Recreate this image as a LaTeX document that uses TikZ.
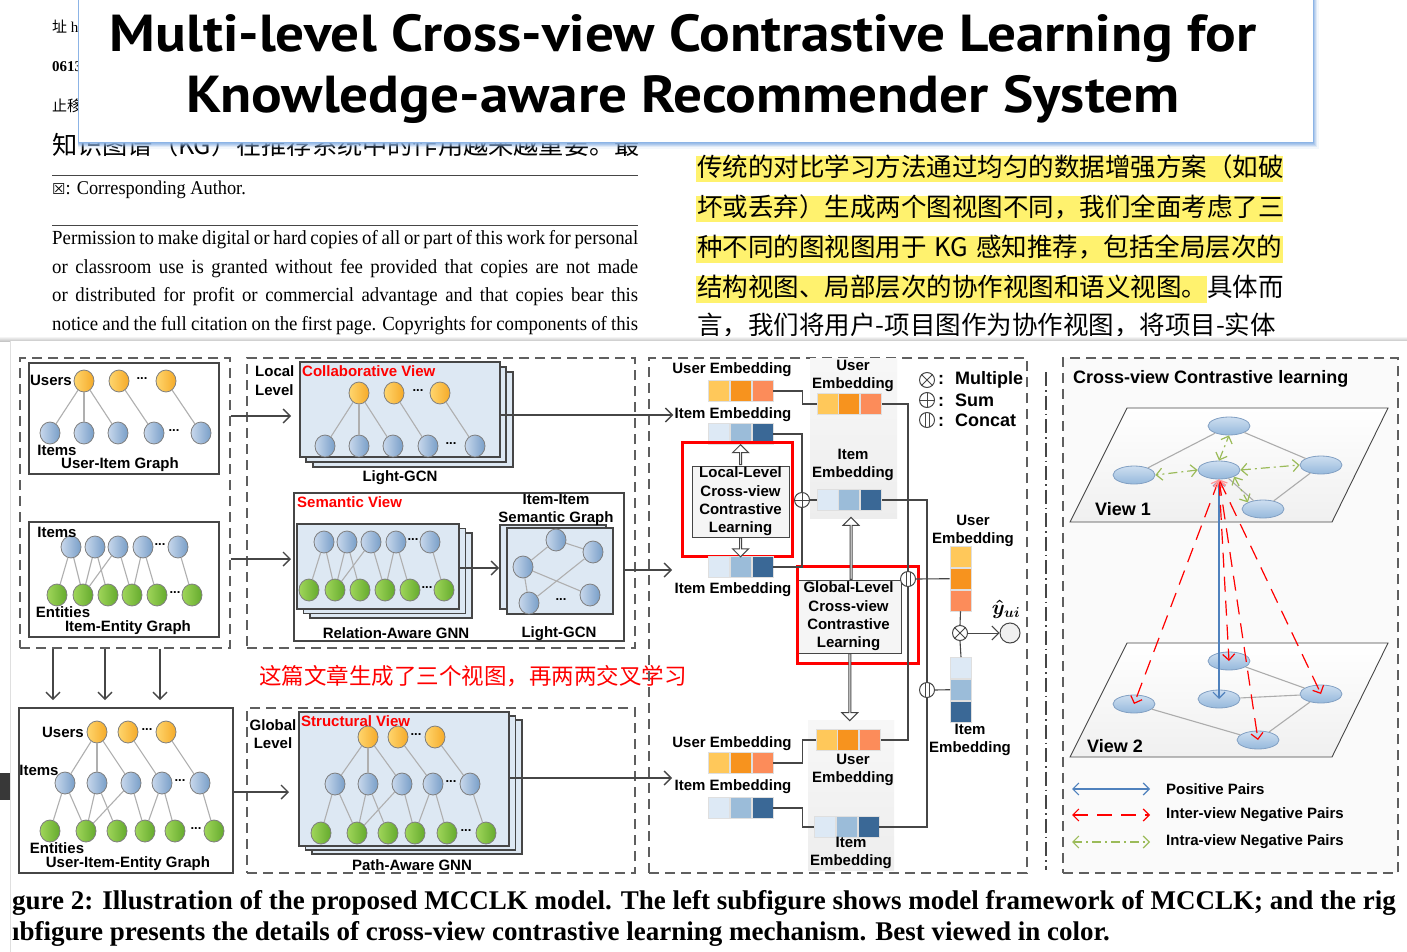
\documentclass[tikz,border=0pt]{standalone}
\usepackage{fontspec}
\setmainfont{Liberation Serif}
\setsansfont{Liberation Sans}
\newfontfamily\cjkfont{Noto Sans CJK SC}
\newfontfamily\titlefont[FakeStretch=1.1]{PT Sans}
\newfontfamily\symbfont{DejaVu Sans}
\newfontfamily\paperfont[FakeStretch=0.94]{Liberation Serif}
\usetikzlibrary{shapes.geometric, shapes.arrows, arrows.meta, positioning, calc}

\definecolor{hlyellow}{RGB}{255,242,110}
\definecolor{titleblue}{RGB}{140,180,230}
\definecolor{frame}{RGB}{70,70,70}
\definecolor{dashgray}{RGB}{95,95,95}
\definecolor{edgegray}{RGB}{175,175,175}
\definecolor{viewfill}{RGB}{221,232,243}
\definecolor{userA}{RGB}{255,214,110}
\definecolor{userB}{RGB}{245,170,40}
\definecolor{itemA}{RGB}{200,216,236}
\definecolor{itemB}{RGB}{120,158,200}
\definecolor{entA}{RGB}{160,214,90}
\definecolor{entB}{RGB}{100,170,45}
\definecolor{ucellA}{RGB}{255,200,90}
\definecolor{ucellB}{RGB}{247,147,30}
\definecolor{ucellC}{RGB}{252,140,90}
\definecolor{icellA}{RGB}{221,233,245}
\definecolor{icellB}{RGB}{155,188,217}
\definecolor{icellC}{RGB}{58,104,150}
\definecolor{posblue}{RGB}{79,129,189}
\definecolor{intragreen}{RGB}{155,187,89}
\definecolor{ellfillA}{RGB}{205,222,240}
\definecolor{ellfillB}{RGB}{150,185,220}
\definecolor{ellline}{RGB}{130,160,195}

\newcommand{\dfont}{\sffamily\bfseries\fontsize{15}{18.3}\selectfont}
\newcommand{\uiedges}{u1/i1, u1/i2, u1/i3, u2/i4, u3/i5}
\newcommand{\kgedges}{i1/e1, i1/e2, i2/e2, i2/e3, i3/e2, i3/e4, i4/e4, i4/e5, i5/e6}

\tikzstyle{arrow} = [line width=1.4pt, draw=frame, -{Straight Barb[length=7pt, width=14pt]}]
\tikzstyle{dashbox} = [rectangle, draw=dashgray, line width=1.2pt, dash pattern=on 10pt off 6pt, inner sep=0pt]
\tikzstyle{graphbox} = [rectangle, draw=frame, line width=1.5pt, fill=white, inner sep=0pt]
\tikzstyle{stackbox} = [rectangle, draw=frame, line width=1.5pt, fill=viewfill, inner sep=0pt]
\tikzstyle{unode} = [ellipse, draw=frame!70, line width=0.8pt, left color=userA, right color=userB, minimum width=20pt, minimum height=22pt, inner sep=0pt]
\tikzstyle{inode} = [unode, left color=itemA, right color=itemB]
\tikzstyle{enode} = [unode, left color=entA, right color=entB]
\tikzstyle{glink} = [draw=edgegray, line width=1.1pt]
\tikzstyle{lbl} = [font=\dfont, inner sep=1pt]
\tikzstyle{redlbl} = [lbl, text=red, anchor=west]
\tikzstyle{dotlbl} = [font=\sffamily\bfseries\fontsize{13}{13}\selectfont, inner sep=0pt]
\tikzstyle{embcell} = [rectangle, minimum width=21pt, minimum height=21pt, inner sep=0pt, draw=white!75!gray, line width=0.7pt]
\tikzstyle{wireline} = [draw=frame, line width=1.1pt]
\tikzstyle{opnode} = [circle, draw=frame, fill=white, line width=1pt, minimum size=15pt, inner sep=0pt]
\tikzstyle{blockarrow} = [single arrow, draw=frame, fill=white, line width=1pt, minimum width=16pt, single arrow head extend=3.5pt, single arrow head indent=0pt, inner sep=0pt]
\tikzstyle{levelbox} = [rectangle, draw=frame, fill=gray!8, line width=1pt, align=center, font=\dfont, inner sep=0pt]
\tikzstyle{redbox} = [rectangle, draw=red, line width=3pt, inner sep=0pt]
\tikzstyle{graypanel} = [rectangle, top color=gray!6, bottom color=gray!14, inner sep=0pt]
\tikzstyle{viewplane} = [draw=frame, line width=0.9pt, top color=white, bottom color=gray!12]
\tikzstyle{viewnode} = [ellipse, draw=ellline, line width=0.8pt, top color=ellfillA, bottom color=ellfillB, minimum width=42pt, minimum height=18pt, inner sep=0pt]
\tikzstyle{posarrow} = [draw=posblue, line width=1.2pt, {Straight Barb[length=6pt, width=12pt]}-{Straight Barb[length=6pt, width=12pt]}]
\tikzstyle{interarrow} = [draw=red, line width=1.2pt, dash pattern=on 15pt off 9pt, {Straight Barb[length=6pt, width=12pt]}-{Straight Barb[length=6pt, width=12pt]}]
\tikzstyle{intraarrow} = [draw=intragreen, line width=1.2pt, dash pattern=on 9pt off 4pt on 2pt off 4pt, {Straight Barb[length=6pt, width=12pt]}-{Straight Barb[length=6pt, width=12pt]}]
\tikzstyle{permline} = [anchor=west, font=\paperfont\fontsize{20}{22}\selectfont, inner sep=0pt]
\tikzstyle{cjkline} = [anchor=west, font=\cjkfont\fontsize{25.5}{27}\selectfont, inner sep=0pt]
\tikzstyle{capline} = [anchor=west, font=\rmfamily\bfseries\fontsize{27}{28}\selectfont, inner sep=0pt]

% embedding bars: name, x, y of middle cell, u/i
\newcommand{\embrow}[4]{%
  \node[embcell, fill=#4cellA] (#1-1) at ({#2-22},#3) {};
  \node[embcell, fill=#4cellB, right=0pt of #1-1] (#1-2) {};
  \node[embcell, fill=#4cellC, right=0pt of #1-2] (#1-3) {};
}
\newcommand{\embcol}[4]{%
  \node[embcell, fill=#4cellA] (#1-1) at (#2,{#3-22}) {};
  \node[embcell, fill=#4cellB, below=0pt of #1-1] (#1-2) {};
  \node[embcell, fill=#4cellC, below=0pt of #1-2] (#1-3) {};
}

\begin{document}
\begin{tikzpicture}[x=1pt, y=-1pt]
\useasboundingbox (0,0) rectangle (1407,952);
\fill[white] (0,0) rectangle (1407,952);

% Paper page behind the title
\node[anchor=west, font=\fontsize{15}{16}\selectfont, inner sep=0pt] (addr) at (52,27) {{\cjkfont 址} h};
\node[anchor=west, font=\bfseries\fontsize{15}{16}\selectfont, inner sep=0pt] (code) at (52,67) {0613};
\node[anchor=west, font=\cjkfont\fontsize{15}{16}\selectfont, inner sep=0pt] (stop) at (52,106) {止移};
\node[cjkline, font=\cjkfont\fontsize{25.2}{27}\selectfont] (kgline) at (52,145) {知识图谱（KG）在推荐系统中的作用越来越重要。最};

% Title
\foreach \s/\o in {6/0.1, 4/0.2, 3/0.3, 2/0.4, 1/0.5}
  \fill[titleblue, opacity=\o] (78,-10) rectangle (1313+\s,143+\s);
\node[draw=titleblue, fill=white, line width=0.8pt, minimum width=1235pt, minimum height=153pt, anchor=south west, inner sep=0pt] (titlebox) at (78,143) {};
\node[font=\titlefont\bfseries\fontsize{52}{61}\selectfont, align=center, inner sep=0pt] (title) at (683,69) {Multi-level Cross-view Contrastive Learning for\\Knowledge-aware Recommender System};

% Left column
\draw[frame, line width=0.8pt] (52,175) -- (638,175);
\node[anchor=west, font=\paperfont\fontsize{19.5}{20}\selectfont, inner sep=0pt] (corr) at (52,190) {{\symbfont\fontsize{15}{15}\selectfont ☒}: Corresponding Author.};
\draw[frame, line width=0.8pt] (52,225) -- (638,225);
\node[permline] (perm1) at (52,240) {\makebox[586pt][s]{Permission to make digital or hard copies of all or part of this work for personal}};
\node[permline] (perm2) at (52,269) {\makebox[586pt][s]{or classroom use is granted without fee provided that copies are not made}};
\node[permline] (perm3) at (52,297) {\makebox[586pt][s]{or distributed for profit or commercial advantage and that copies bear this}};
\node[permline] (perm4) at (52,326) {\makebox[586pt][s]{notice and the full citation on the first page. Copyrights for components of this}};

% Right column
\fill[hlyellow] (696,156) rectangle (1283,182);
\fill[hlyellow] (696,196) rectangle (1283,222);
\fill[hlyellow] (696,236) rectangle (1283,263);
\fill[hlyellow] (696,276) rectangle (1207,303);
\node[cjkline] (zh1) at (697,167) {传统的对比学习方法通过均匀的数据增强方案（如破};
\node[cjkline] (zh2) at (697,207) {坏或丢弃）生成两个图视图不同，我们全面考虑了三};
\node[cjkline] (zh3) at (697,247) {\makebox[585pt][s]{种不同的图视图用于 KG 感知推荐，包括全局层次的}};
\node[cjkline] (zh4) at (697,287) {结构视图、局部层次的协作视图和语义视图。具体而};
\node[cjkline] (zh5) at (697,325) {言，我们将用户-项目图作为协作视图，将项目-实体};

% Figure card
\shade[top color=white, bottom color=gray!45] (0,336) rectangle (1407,341);
\fill[white] (10,341) rectangle (1407,952);
\draw[gray!25] (10,341) -- (10,952);
\fill[black!78] (0,773) rectangle (10,800);

% Input graphs
\node[dashbox, minimum width=210pt, minimum height=290pt] (inputs) at (125,503) {};
\node[graphbox, minimum width=190pt, minimum height=111pt] (uig) at (124,418.5) {};
\node[graphbox, minimum width=190pt, minimum height=115pt] (ieg) at (124,579.5) {};
\node[graphbox, minimum width=214pt, minimum height=165pt] (uieg) at (126,790.5) {};

\foreach \n/\x in {1/84, 2/119, 3/166} \node[unode] (uig-u\n) at (\x,381) {};
\foreach \n/\x in {1/50, 2/84, 3/118, 4/154, 5/201} \node[inode] (uig-i\n) at (\x,433) {};
\foreach \a/\b in \uiedges \draw[glink] (uig-\a) -- (uig-\b);
\node[dotlbl] (uig-ud) at (142,379) {...};
\node[dotlbl] (uig-id) at (174,431) {...};
\node[lbl] (uig-ul) at (51,380) {Users};
\node[lbl] (uig-il) at (57,450) {Items};
\node[lbl] (uig-name) at (120,465) {User-Item Graph};

\foreach \n/\x in {1/71, 2/95, 3/118, 4/143, 5/178} \node[inode] (ieg-i\n) at (\x,547) {};
\foreach \n/\x in {1/57, 2/83, 3/108, 4/132, 5/157, 6/192} \node[enode] (ieg-e\n) at (\x,595) {};
\foreach \a/\b in \kgedges \draw[glink] (ieg-\a) -- (ieg-\b);
\node[dotlbl] (ieg-id) at (160,545) {...};
\node[dotlbl] (ieg-ed) at (175,593) {...};
\node[lbl] (ieg-il) at (57,532) {Items};
\node[lbl] (ieg-el) at (63,612) {Entities};
\node[lbl] (ieg-name) at (128,628) {Item-Entity Graph};

\foreach \n/\x in {1/97, 2/128, 3/166} \node[unode] (uie-u\n) at (\x,732) {};
\foreach \n/\x in {1/65, 2/97, 3/131, 4/162, 5/200} \node[inode] (uie-i\n) at (\x,783) {};
\foreach \n/\x in {1/50, 2/86, 3/117, 4/145, 5/175, 6/214} \node[enode] (uie-e\n) at (\x,831) {};
\foreach \a/\b in \uiedges \draw[glink] (uie-\a) -- (uie-\b);
\foreach \a/\b in \kgedges \draw[glink] (uie-\a) -- (uie-\b);
\node[dotlbl] (uie-ud) at (147,730) {...};
\node[dotlbl] (uie-id) at (180,781) {...};
\node[dotlbl] (uie-ed) at (196,829) {...};
\node[lbl] (uie-ul) at (63,732) {Users};
\node[lbl] (uie-il) at (39,770) {Items};
\node[lbl] (uie-el) at (57,848) {Entities};
\node[lbl] (uie-name) at (128,864) {User-Item-Entity Graph};

\foreach \x [count=\k] in {53,105,160} {
  \coordinate (down\k) at (\x,700);
  \draw[arrow] (inputs.south -| down\k) -- (down\k);
}

% Local level views
\node[dashbox, minimum width=388pt, minimum height=290pt] (local) at (441,503) {};
\node[lbl, anchor=west, align=left, font=\sffamily\bfseries\fontsize{15}{19}\selectfont] (loclbl) at (254,381) {Local\\Level};
\node[stackbox, minimum width=200pt, minimum height=95pt] (collab3) at (413,419.5) {};
\node[stackbox, minimum width=200pt, minimum height=95pt] (collab2) at (406,414.5) {};
\node[stackbox, minimum width=200pt, minimum height=95pt] (collab1) at (400,409.5) {};
\node[redlbl] (collabname) at (301,371) {Collaborative View};
\foreach \n/\x in {1/359, 2/394, 3/440} \node[unode] (col-u\n) at (\x,393) {};
\foreach \n/\x in {1/325, 2/359, 3/393, 4/428, 5/475} \node[inode] (col-i\n) at (\x,446) {};
\foreach \a/\b in \uiedges \draw[glink] (col-\a) -- (col-\b);
\node[dotlbl] (col-ud) at (418,391) {...};
\node[dotlbl] (col-id) at (451,444) {...};
\node[lbl] (colgcn) at (400,478) {Light-GCN};

\node[graphbox, minimum width=330pt, minimum height=148pt] (sem) at (459,567) {};
\node[redlbl] (semname) at (296,502) {Semantic View};
\node[stackbox, minimum width=162pt, minimum height=85pt] (rel3) at (391,575.5) {};
\node[stackbox, minimum width=162pt, minimum height=85pt] (rel2) at (384.5,571) {};
\node[stackbox, minimum width=162pt, minimum height=85pt] (rel1) at (378,566.5) {};
\foreach \n/\x in {1/324, 2/347, 3/371, 4/396, 5/430} \node[inode] (rel-i\n) at (\x,542) {};
\foreach \n/\x in {1/309, 2/335, 3/360, 4/385, 5/410, 6/444} \node[enode] (rel-e\n) at (\x,590) {};
\foreach \a/\b in \kgedges \draw[glink] (rel-\a) -- (rel-\b);
\node[dotlbl] (rel-id) at (413,540) {...};
\node[dotlbl] (rel-ed) at (427,588) {...};
\node[lbl] (relname) at (396,633) {Relation-Aware GNN};

\node[stackbox, minimum width=106pt, minimum height=84pt] (ii2) at (553,567) {};
\node[stackbox, minimum width=106pt, minimum height=86pt] (ii1) at (560,571) {};
\node[lbl, align=center] (iiname) at (556,510) {Item-Item\\Semantic Graph};
\foreach \n/\x/\y in {1/556/540, 2/593/552, 3/523/567, 4/529/603, 5/590/595} \node[inode] (iig-\n) at (\x,\y) {};
\foreach \a/\b in {1/2, 1/3, 3/5, 3/4, 2/4} \draw[glink] (iig-\a) -- (iig-\b);
\node[dotlbl] (iig-d) at (561,600) {...};
\node[lbl] (iigcn) at (559,634) {Light-GCN};

\coordinate (coltip) at (291,416);
\coordinate (semin) at (291,559);
\coordinate (iiin) at (499,568);
\draw[arrow] (inputs.east |- coltip) -- (coltip);
\draw[arrow] (inputs.east |- semin) -- (semin);
\draw[arrow] (rel1.east |- iiin) -- (iiin);

\node[anchor=west, text=red, font=\cjkfont\fontsize{22.5}{24}\selectfont, inner sep=0pt] (note) at (259,676) {这篇文章生成了三个视图，再两两交叉学习};

% Global level view
\node[dashbox, minimum width=388pt, minimum height=165pt] (global) at (441,790.5) {};
\node[lbl, align=center, font=\sffamily\bfseries\fontsize{15}{18}\selectfont] (glblbl) at (273,734) {Global\\Level};
\node[stackbox, minimum width=210pt, minimum height=134pt] (struct3) at (417,787) {};
\node[stackbox, minimum width=210pt, minimum height=134pt] (struct2) at (410.5,783) {};
\node[stackbox, minimum width=210pt, minimum height=134pt] (struct1) at (404,779) {};
\node[redlbl] (strname) at (300,721) {Structural View};
\foreach \n/\x in {1/368, 2/398, 3/435} \node[unode] (str-u\n) at (\x,737) {};
\foreach \n/\x in {1/335, 2/368, 3/402, 4/433, 5/470} \node[inode] (str-i\n) at (\x,784) {};
\foreach \n/\x in {1/321, 2/357, 3/388, 4/415, 5/447, 6/486} \node[enode] (str-e\n) at (\x,833) {};
\foreach \a/\b in \uiedges \draw[glink] (str-\a) -- (str-\b);
\foreach \a/\b in \kgedges \draw[glink] (str-\a) -- (str-\b);
\node[dotlbl] (str-ud) at (416,735) {...};
\node[dotlbl] (str-id) at (451,782) {...};
\node[dotlbl] (str-ed) at (466,831) {...};
\node[lbl] (strgnn) at (412,865) {Path-Aware GNN};
\coordinate (strin) at (289,792);
\draw[arrow] (uieg.east |- strin) -- (strin);

% Embedding fusion
\node[dashbox, minimum width=378pt, minimum height=515pt] (fusion) at (838,615.5) {};
\node[graypanel, minimum width=87pt, minimum height=160pt] (ptop) at (853.5,438) {};
\node[graypanel, minimum width=86pt, minimum height=150pt] (pbot) at (851,795) {};

\node[lbl] (lue) at (732,370) {User Embedding};
\embrow{lub}{741}{391}{u}
\node[lbl] (lie1) at (733,415) {Item Embedding};
\embrow{lib1}{741}{434}{i}
\node[levelbox, minimum width=97pt, minimum height=71pt] (loccl) at (740.5,501.5) {Local-Level\\Cross-view\\Contrastive\\Learning};
\node[redbox, minimum width=110pt, minimum height=114pt] (locred) at (737,499) {};
\embrow{lib2}{741}{567}{i}
\node[lbl] (lie2) at (733,590) {Item Embedding};

\node[lbl, align=center] (pue) at (853,376) {User\\Embedding};
\embrow{pub}{849.5}{404}{u}
\node[lbl, align=center] (pie) at (853,465) {Item\\Embedding};
\embrow{pib}{849.5}{500}{i}
\node[opnode] (sum) at (802,500) {};

\node[levelbox, minimum width=105pt, minimum height=73pt] (glbcl) at (848.5,616.5) {Global-Level\\Cross-view\\Contrastive\\Learning};
\node[redbox, minimum width=121pt, minimum height=97pt] (glbred) at (857.5,614.5) {};

\node[lbl] (gue) at (732,744) {User Embedding};
\embrow{gub}{741}{763}{u}
\node[lbl] (gie) at (733,787) {Item Embedding};
\embrow{gib}{741}{808}{i}
\embrow{qub}{848.5}{740}{u}
\node[lbl, align=center] (que) at (853,770) {User\\Embedding};
\embrow{qib}{847}{827}{i}
\node[lbl, align=center] (qie) at (851,853) {Item\\Embedding};

\node[opnode] (cat1) at (908,579) {};
\node[opnode] (cat2) at (927,690) {};
\node[lbl, align=center] (rue) at (973,531) {User\\Embedding};
\embcol{rub}{960.5}{579}{u}
\node[opnode] (mult) at (960,633) {};
\embcol{rib}{961}{690}{i}
\node[lbl, align=center] (rie) at (970,740) {Item\\Embedding};
\node[circle, draw=frame, fill=gray!12, line width=1pt, minimum size=20pt] (yhat) at (1010,633) {};
\node[font=\boldmath\fontsize{21}{21}\selectfont, inner sep=0pt] (yhatlbl) at (1006,609) {$\hat{y}_{ui}$};

\node[opnode] (legmult) at (927,380) {};
\node[opnode] (legsum) at (927,400) {};
\node[opnode] (legcat) at (927,420) {};
\node[lbl, anchor=west, font=\sffamily\bfseries\fontsize{18}{18}\selectfont] (legmultt) at (937,380) {:\hspace{11pt}Multiple};
\node[lbl, anchor=west, font=\sffamily\bfseries\fontsize{18}{18}\selectfont] (legsumt) at (937,400) {:\hspace{11pt}Sum};
\node[lbl, anchor=west, font=\sffamily\bfseries\fontsize{18}{18}\selectfont] (legcatt) at (937,420) {:\hspace{11pt}Concat};

\foreach \o in {sum, legsum} \draw[frame, line width=1pt] (\o.north) -- (\o.south) (\o.west) -- (\o.east);
\foreach \o in {mult, legmult} \draw[frame, line width=1pt] (\o.north east) -- (\o.south west) (\o.north west) -- (\o.south east);
\foreach \o in {cat1, cat2, legcat} \draw[frame, line width=1pt] ([xshift=-2pt, yshift=-1pt]\o.north) -- ([xshift=-2pt, yshift=1pt]\o.south) ([xshift=2pt, yshift=-1pt]\o.north) -- ([xshift=2pt, yshift=1pt]\o.south);

\node[blockarrow, rotate=90, minimum height=20pt] (locup) at ($(loccl.north)!0.5!(lib1-2.south)$) {};
\node[blockarrow, rotate=-90, minimum height=19pt] (locdown) at ($(loccl.south)!0.5!(lib2-2.north)$) {};
\node[blockarrow, rotate=90, minimum height=62pt] (glbup) at ($(glbcl.north)!0.5!(ptop.south)$) {};
\node[blockarrow, rotate=-90, minimum height=67pt] (glbdown) at ($(glbcl.south)!0.5!(pbot.north)$) {};

\draw[wireline] (lub-3.east) -- ++(29,0) |- (pub-1.west);
\draw[wireline] (lib1-3.east) -| (sum.north);
\draw[wireline] (lib2-3.east) -| (sum.south);
\draw[wireline] (sum.east) -- (pib-1.west);
\draw[wireline] (pub-3.east) -| (cat1.north);
\draw[wireline] (qub-3.east) -| (cat1.south);
\draw[wireline] (cat1.east) -- (rub-2.west);
\draw[wireline] (pib-3.east) -| (cat2.north);
\draw[wireline] (qib-3.east) -| (cat2.south);
\draw[wireline] (cat2.east) -- (rib-2.west);
\draw[wireline] (gub-3.east) -- ++(29,0) |- (qub-1.west);
\draw[wireline] (gib-3.east) -- ++(29,0) |- (qib-1.west);
\draw[wireline] (rub-3.south) -- (mult.north);
\draw[wireline] (mult.south) -- (rib-1.north);
\draw[arrow, line width=1pt] (mult.east) -- (yhat.west);

\coordinate (semtip) at (672,570);
\coordinate (strtip) at (672,778);
\draw[arrow] (collab1.east |- lie1.west) -- (lie1.west);
\draw[arrow] (sem.east |- semtip) -- (semtip);
\draw[arrow] (struct1.east |- strtip) -- (strtip);

% Separator
\draw[frame, line width=1.6pt, dash pattern=on 14pt off 4pt on 1.5pt off 4pt] (1046,372) -- (1046,870);

% Cross-view contrastive learning
\node[dashbox, fill=gray!4, minimum width=335pt, minimum height=515pt] (cvcl) at (1230.5,615.5) {};
\node[lbl, anchor=west, font=\sffamily\bfseries\fontsize{18}{18}\selectfont] (cvcltitle) at (1072,379) {Cross-view Contrastive learning};
\draw[viewplane] (1127,408) -- (1388,408) -- (1332,522) -- (1070,522) -- cycle;
\draw[viewplane] (1127,643) -- (1388,643) -- (1332,757) -- (1070,757) -- cycle;
\node[lbl, anchor=west, font=\sffamily\bfseries\fontsize{18}{18}\selectfont] (view1) at (1094,509) {View 1};
\node[lbl, anchor=west, font=\sffamily\bfseries\fontsize{18}{18}\selectfont] (view2) at (1086,746) {View 2};

\foreach \n/\x/\y in {a/1229/426, b/1134/475, c/1219/470, d/1321/465, e/1263/509} \node[viewnode] (v1\n) at (\x,\y) {};
\foreach \a/\b in {b/a, a/d, d/e, c/e} \draw[glink, draw=gray!65] (v1\a) -- (v1\b);
\foreach \n/\x/\y in {f/1229/661, g/1134/704, h/1219/699, i/1321/694, j/1258/740} \node[viewnode] (v2\n) at (\x,\y) {};
\foreach \a/\b in {f/i, h/i, i/j, g/j} \draw[glink, draw=gray!65] (v2\a) -- (v2\b);

\draw[intraarrow] (v1c.west) -- (v1b.east);
\draw[intraarrow] (v1c.east) -- (v1d.west);
\draw[intraarrow] (v1c.north) -- (v1a.south);
\draw[intraarrow] (v1c.south east) -- (v1e.north west);
\draw[posarrow] (v1c.south) -- (v2h.center);
\foreach \t in {g, f, j, i}
  \draw[interarrow, {Straight Barb[length=6pt, width=12pt, color=red!40]}-{Straight Barb[length=6pt, width=12pt]}] (v1c.south) -- (v2\t.center);

\coordinate (posA) at (1072,789);
\coordinate (posB) at (1150,789);
\coordinate (interA) at (1072,815);
\coordinate (interB) at (1150,815);
\coordinate (intraA) at (1072,842);
\coordinate (intraB) at (1150,842);
\draw[posarrow] (posA) -- (posB);
\draw[interarrow] (interA) -- (interB);
\draw[intraarrow] (intraA) -- (intraB);
\node[lbl, anchor=west] (postxt) at (1165,789) {Positive Pairs};
\node[lbl, anchor=west] (intertxt) at (1165,815) {Inter-view Negative Pairs};
\node[lbl, anchor=west] (intratxt) at (1165,842) {Intra-view Negative Pairs};

% Caption
\node[capline] (cap1) at (12,903) {gure 2: Illustration of the proposed MCCLK model. The left subfigure shows model framework of MCCLK; and the rig};
\node[capline] (cap2) at (12,934) {ıbfigure presents the details of cross-view contrastive learning mechanism. Best viewed in color.};

\end{tikzpicture}
\end{document}
